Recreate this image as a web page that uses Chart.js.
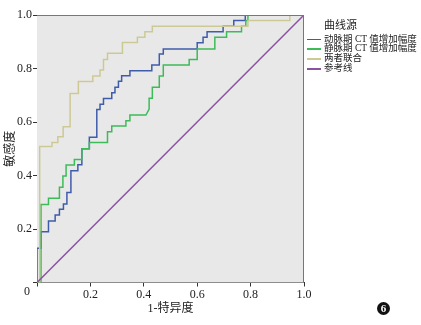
<!DOCTYPE html>
<html>
<head>
<meta charset="utf-8">
<script src="https://cdn.jsdelivr.net/npm/chart.js@4.4.1/dist/chart.umd.min.js"></script>
<style>
    html, body { margin: 0; padding: 0; background: #fff; }
    #wrap { position: relative; width: 421px; height: 325px; overflow: hidden; }
    #roc { position: absolute; left: 0; top: 0; }
    .serif { font-family: "Liberation Serif", "Noto Sans CJK SC", serif; color: #222; }
    #legend-title { position: absolute; left: 324px; top: 18px; font-size: 11px; line-height: 14px; }
    #legend { position: absolute; left: 307px; top: 34.5px; }
    .legend-row { height: 9.8px; line-height: 9.8px; font-size: 9.5px; white-space: nowrap; display: flex; align-items: center; }
    .legend-line { width: 14px; height: 1.5px; margin-right: 3px; }
    #badge { position: absolute; left: 377px; top: 302px; width: 13px; height: 13px; border-radius: 50%;
             background: #111; color: #fff; font: bold 11px "Liberation Serif", serif; text-align: center; line-height: 13px; }
</style>
</head>
<body>
<div id="wrap">
    <canvas id="roc" width="421" height="325"></canvas>
    <div id="legend-title" class="serif">曲线源</div>
    <div id="legend" class="serif"></div>
    <div id="badge">6</div>
</div>
<script>
// ROC curve vertices: [1-特异度, 敏感度]
const arterialPoints = [
    [0, 0], [0, 0.128], [0.015, 0.128], [0.015, 0.19], [0.043, 0.19], [0.043, 0.23],
    [0.068, 0.23], [0.068, 0.252], [0.084, 0.252], [0.084, 0.274], [0.099, 0.274], [0.099, 0.293],
    [0.112, 0.293], [0.112, 0.336], [0.127, 0.336], [0.127, 0.418], [0.153, 0.418], [0.153, 0.44],
    [0.168, 0.44], [0.168, 0.50], [0.196, 0.50], [0.196, 0.543], [0.224, 0.543], [0.224, 0.647],
    [0.236, 0.647], [0.236, 0.666], [0.249, 0.666], [0.249, 0.688], [0.28, 0.688], [0.28, 0.709],
    [0.292, 0.709], [0.292, 0.73], [0.305, 0.73], [0.305, 0.752], [0.317, 0.752], [0.317, 0.773],
    [0.348, 0.773], [0.348, 0.792], [0.43, 0.792], [0.43, 0.813], [0.458, 0.813], [0.458, 0.854],
    [0.473, 0.854], [0.473, 0.873], [0.6, 0.873], [0.6, 0.896], [0.622, 0.896], [0.622, 0.917],
    [0.637, 0.917], [0.637, 0.937], [0.697, 0.937], [0.697, 0.958], [0.737, 0.958], [0.737, 0.979],
    [0.78, 0.979], [0.78, 1], [1, 1]
];
const venousPoints = [
    [0, 0], [0.015, 0], [0.015, 0.292], [0.043, 0.292], [0.043, 0.315], [0.084, 0.315],
    [0.084, 0.356], [0.097, 0.356], [0.097, 0.398], [0.109, 0.398], [0.109, 0.439], [0.14, 0.439],
    [0.14, 0.46], [0.168, 0.46], [0.168, 0.50], [0.196, 0.50], [0.196, 0.523], [0.264, 0.523],
    [0.264, 0.564], [0.28, 0.564], [0.28, 0.585], [0.333, 0.585], [0.333, 0.605], [0.348, 0.605],
    [0.348, 0.626], [0.408, 0.626], [0.42, 0.648], [0.42, 0.689], [0.432, 0.689], [0.432, 0.73],
    [0.458, 0.73], [0.458, 0.772], [0.473, 0.772], [0.473, 0.813], [0.57, 0.813], [0.57, 0.834],
    [0.6, 0.834], [0.6, 0.873], [0.666, 0.873], [0.666, 0.917], [0.71, 0.917], [0.71, 0.937],
    [0.766, 0.937], [0.766, 0.958], [0.782, 0.958], [0.782, 0.979], [0.79, 0.979], [0.79, 1], [1, 1]
];
const combinedPoints = [
    [0, 0], [0.01, 0], [0.01, 0.508], [0.056, 0.508], [0.056, 0.523], [0.078, 0.523],
    [0.078, 0.545], [0.098, 0.545], [0.098, 0.582], [0.124, 0.582], [0.124, 0.707], [0.155, 0.707],
    [0.155, 0.751], [0.209, 0.751], [0.209, 0.772], [0.236, 0.772], [0.236, 0.794], [0.249, 0.794],
    [0.249, 0.834], [0.264, 0.834], [0.264, 0.857], [0.32, 0.857], [0.32, 0.897], [0.376, 0.897],
    [0.376, 0.917], [0.404, 0.917], [0.404, 0.937], [0.432, 0.937], [0.432, 0.958], [0.79, 0.958],
    [0.79, 0.979], [0.947, 0.979], [0.947, 1], [1, 1]
];
const referencePoints = [[0, 0], [1, 1]];

const seriesLabels = ['动脉期 CT 值增加幅度', '静脉期 CT 值增加幅度', '两者联合', '参考线'];
const seriesColors = ['#3f5cab', '#3dbb58', '#cdc995', '#8b52a1'];
const tickValues = [0, 0.2, 0.4, 0.6, 0.8, 1.0];

const SERIF = '"Liberation Serif", "Noto Sans CJK SC", serif';

/**
 * Turn [x, y] pairs into Chart.js point objects
 */
function toXY(points) {
    return points.map(p => ({ x: p[0], y: p[1] }));
}

/**
 * Grey plot background, frame and the shared "0" corner label
 */
const plotFrame = {
    id: 'plotFrame',
    beforeDatasetsDraw(chart) {
        const { ctx, chartArea: a } = chart;
        ctx.save();
        ctx.fillStyle = '#e8e8e8';
        ctx.fillRect(a.left, a.top, a.right - a.left, a.bottom - a.top);
        ctx.restore();
    },
    afterDraw(chart) {
        const { ctx, chartArea: a, scales } = chart;
        ctx.save();
        ctx.strokeStyle = '#777';
        ctx.lineWidth = 1;
        ctx.beginPath();
        ctx.moveTo(a.left, a.top + 0.5);
        ctx.lineTo(a.right - 0.5, a.top + 0.5);
        ctx.lineTo(a.right - 0.5, a.bottom);
        ctx.stroke();
        ctx.fillStyle = '#222';
        ctx.font = '12px ' + SERIF;
        ctx.textAlign = 'center';
        ctx.textBaseline = 'middle';
        ctx.fillText('0', scales.x.getPixelForValue(0) - 10, scales.y.getPixelForValue(0) + 9);
        ctx.restore();
    }
};

const datasets = [arterialPoints, venousPoints, combinedPoints, referencePoints].map((pts, i) => ({
    label: seriesLabels[i],
    data: toXY(pts),
    showLine: true,
    borderColor: seriesColors[i],
    backgroundColor: seriesColors[i],
    borderWidth: 1.5,
    pointRadius: 0,
    tension: 0,
    order: 3 - i
}));

const tickOpts = {
    font: { family: SERIF, size: 12 },
    color: '#222',
    padding: 1,
    autoSkip: false,
    callback: value => (value === 0 ? '' : value.toFixed(1))
};

new Chart(document.getElementById('roc'), {
    type: 'scatter',
    data: { datasets },
    options: {
        responsive: false,
        animation: false,
        layout: { padding: { top: 15, right: 117, left: 0, bottom: 0 } },
        plugins: { legend: { display: false }, tooltip: { enabled: false } },
        scales: {
            x: {
                type: 'linear', min: 0, max: 1,
                afterBuildTicks: scale => { scale.ticks = tickValues.map(v => ({ value: v })); },
                afterFit: scale => { scale.height = 42.5; },
                ticks: tickOpts,
                grid: { drawOnChartArea: false, tickLength: 4, color: '#333' },
                border: { color: '#333', width: 1 },
                title: {
                    display: true, text: '1-特异度', color: '#222',
                    font: { family: SERIF, size: 12 }, padding: { top: 0, bottom: 9 }
                }
            },
            y: {
                type: 'linear', min: 0, max: 1,
                afterBuildTicks: scale => { scale.ticks = tickValues.map(v => ({ value: v })); },
                afterFit: scale => { scale.width = 37; },
                ticks: tickOpts,
                grid: { drawOnChartArea: false, tickLength: 4, color: '#333' },
                border: { color: '#333', width: 1 },
                title: {
                    display: true, text: '敏感度', color: '#222',
                    font: { family: SERIF, size: 12 }, padding: { top: 4, bottom: 0 }
                }
            }
        }
    },
    plugins: [plotFrame]
});

// Legend built from the same labels and colours
const legend = document.getElementById('legend');
seriesLabels.forEach((label, i) => {
    const row = document.createElement('div');
    row.className = 'legend-row';
    row.innerHTML = `<span class="legend-line" style="background:${seriesColors[i]}"></span><span>${label}</span>`;
    legend.appendChild(row);
});
</script>
</body>
</html>
